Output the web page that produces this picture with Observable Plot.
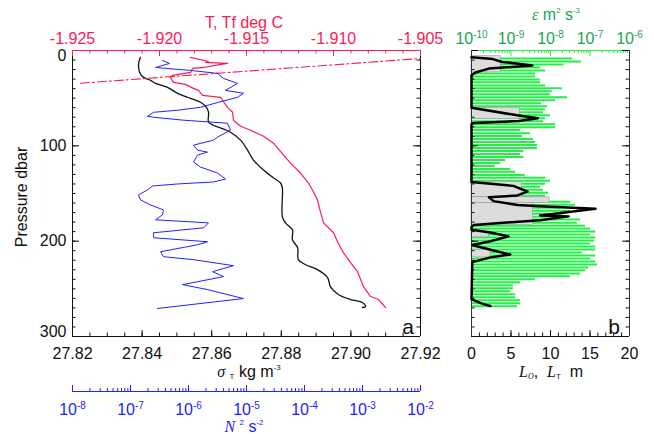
<!DOCTYPE html>
<html>
<head>
<meta charset="utf-8">
<script src="https://cdn.jsdelivr.net/npm/d3@7"></script>
<script src="https://cdn.jsdelivr.net/npm/@observablehq/plot@0.6"></script>
<style>
  body { margin: 0; background: #fff; }
  #fig { position: relative; width: 654px; height: 434px; font-family: "Liberation Sans", Arial, sans-serif; }
  #fig svg { position: absolute; left: 0; top: 0; }
  .lbl { position: absolute; white-space: nowrap; font-size: 16px; line-height: 1; transform: translate(-50%, -50%); }
  .lbl i { font-family: "Liberation Serif", "Times New Roman", serif; }
  .lbl sup { font-size: 8px; vertical-align: 7px; }
  .lbl sub { font-size: 8px; vertical-align: -2px; }
</style>
</head>
<body>
<div id="fig"></div>
<script>
// ---- panel a: density (sigma_T), temperature, N^2 profiles ----
const sigmaP = [7.3,13.6,23.0,28.2,31.3,34.5,38.7,44.9,50.2,54.3,59.6,64.8,75.2,78.4,85.7,94.0,104.5,115.0,125.4,133.8,139.0,144.2,174.5,180.8,188.1,198.5,206.9,219.4,224.7,229.9,238.2,247.6,256.0,261.2,264.4,268.5,269.6];
const sigmaT = [27.8395,27.8390,27.8393,27.8404,27.8424,27.8439,27.8473,27.8502,27.8539,27.8568,27.8585,27.8591,27.8591,27.8605,27.8654,27.8683,27.8703,27.8720,27.8749,27.8778,27.8798,27.8803,27.8803,27.8812,27.8832,27.8832,27.8847,27.8849,27.8870,27.8904,27.8933,27.8941,27.8964,27.8999,27.9033,27.9042,27.9033];

const tempP = [7.3,11.5,12.5,13.6,14.6,17.8,18.8,23.0,26.1,28.2,33.4,35.5,39.7,41.8,47.0,49.1,52.2,59.6,64.8,73.1,79.4,83.6,89.9,97.2,109.7,118.1,128.5,139.0,146.3,156.7,169.3,180.8,191.2,200.6,212.1,222.6,232.0,247.6,258.1,261.2,269.6];
const temp = [-1.91822,-1.91718,-1.91736,-1.91609,-1.91649,-1.91747,-1.91810,-1.91822,-1.91925,-1.91937,-1.91920,-1.91851,-1.91805,-1.91776,-1.91753,-1.91649,-1.91638,-1.91609,-1.91580,-1.91575,-1.91534,-1.91477,-1.91402,-1.91345,-1.91287,-1.91247,-1.91190,-1.91144,-1.91121,-1.91092,-1.91075,-1.91057,-1.91000,-1.90977,-1.90943,-1.90902,-1.90862,-1.90828,-1.90787,-1.90741,-1.90701];

// freezing temperature line (dash-dot)
const tfP = [34.3, 8.4];
const tfT = [-1.92454, -1.905];

const n2P = [10.4,13.6,17.8,20.9,24.0,29.3,34.5,41.8,44.9,49.1,54.3,59.6,62.7,64.8,69.0,70.0,73.1,76.3,83.6,90.9,94.0,99.3,104.5,106.6,109.7,117.0,122.3,128.5,134.8,137.9,140.0,142.1,146.3,151.5,156.7,162.0,167.2,172.4,177.6,180.8,186.0,191.2,196.4,200.6,203.8,211.1,216.3,219.4,225.7,232.0,237.2,245.6,250.8,260.2,270.6];
const n2 = [3.56e-7,4.7e-7,2.7e-7,1.08e-6,3.16e-6,4.01e-6,7.0e-6,4.35e-6,8.87e-6,7.0e-6,3.29e-6,1.61e-6,6.46e-7,2.5e-7,1.96e-7,2.5e-7,8.2e-7,4.7e-6,5.3e-6,3.16e-6,2.7e-6,1.22e-6,1.43e-6,2.13e-6,1.43e-6,1.22e-6,1.61e-6,3.16e-6,4.35e-6,2.7e-6,6.46e-7,2.39e-7,1.96e-7,1.37e-7,1.49e-7,2.21e-7,3.71e-7,3.56e-7,2.7e-7,2.21e-6,1.82e-6,2.5e-7,2.5e-7,2.13e-6,1.43e-6,3.29e-7,3.71e-7,1.22e-6,5.97e-6,2.6e-6,4.01e-6,7.9e-7,2.13e-6,8.87e-6,2.92e-7];

// ---- panel b: dissipation rate, Ozmidov and Thorpe scales ----
const epsP = [8.4,11.5,14.7,17.8,20.9,24.1,27.2,30.3,33.4,36.6,39.7,42.8,46.0,49.1,52.2,55.4,58.5,61.6,64.7,67.9,71.0,74.1,77.3,80.4,83.5,86.7,89.8,92.9,96.0,99.2,102.3,105.4,108.6,111.7,114.8,118.0,121.1,124.2,127.3,130.5,133.6,136.7,139.9,143.0,146.1,149.3,152.4,155.5,158.6,161.8,164.9,168.0,171.2,174.3,177.4,180.6,183.7,186.8,189.9,193.1,196.2,199.3,202.5,205.6,208.7,211.9,215.0,218.1,221.2,224.4,227.5,230.6,233.8,236.9,240.0,243.2,246.3,249.4,252.5,255.7,258.8,261.9,265.1,268.2];
const eps = [3.6e-8,6.1e-8,2.2e-8,5.6e-9,7.5e-9,4.2e-9,4.2e-9,5.6e-9,5.6e-9,7.5e-9,2.0e-8,1.1e-8,1.0e-8,2.7e-8,1.35e-8,5.9e-9,8.4e-9,7.5e-9,6.6e-9,1.0e-8,7.5e-9,6.6e-9,1.35e-8,1.35e-8,1.74e-9,3.1e-9,1.95e-9,3.7e-9,4.2e-9,4.7e-9,4.7e-9,2.1e-9,1.74e-9,2.1e-9,7.3e-10,5.4e-10,4.0e-10,9.7e-10,1.3e-9,2.3e-9,7.5e-9,1.0e-8,7.5e-9,5.6e-9,6.6e-9,8.9e-9,7.5e-9,8.9e-9,3.2e-8,4.3e-8,1.8e-8,3.2e-8,2.1e-8,2.4e-8,5.8e-8,4.8e-8,7.7e-8,1.03e-7,1.4e-7,1.03e-7,1.4e-7,1.3e-7,1.03e-7,1.4e-7,1.4e-7,6.4e-8,1.4e-7,1.03e-7,1.4e-7,1.55e-7,9.2e-8,7.7e-8,5.8e-8,3.2e-8,4.2e-9,1.74e-9,1.15e-9,1.15e-9,9.7e-10,1.3e-9,1.3e-9,1.74e-9,1.74e-9,1.46e-9];

// Thorpe scale over overturning patches (top, bottom, length in m)
const ltTop = [6, 60, 138, 154, 160, 188, 209];
const ltBot = [23, 72, 154, 160, 183, 196, 217];
const lt = [3.7, 6.1, 6.4, 9.9, 7.8, 2.2, 2.4];

// Ozmidov scale
const loP = [7,9,12,15.7,19,23,26,60,68,71,74,76,77,138,142,148,152,154,158,162,164,166,173,174,178,183,185,188,191,195,200,204,209,214,217,222,261,266,268];
const lo = [0,2.7,3.9,7.7,2.2,0.5,0,0,5.8,8.4,6,0.3,0,0,5.3,7.1,5.8,2.2,2.8,5.8,10,15.7,8.7,12.3,8.7,0.3,0,0,2.4,4.7,2.4,0.1,2.4,4.9,2.4,0.1,0,1.5,2.4];

// ---- tick values ----
const tempTicks = [-1.925, -1.920, -1.915, -1.910, -1.905];
const sigmaTicks = [27.82, 27.84, 27.86, 27.88, 27.90, 27.92];
const pressureTicks = [0, 100, 200, 300];
const n2Ticks = [1e-8, 1e-7, 1e-6, 1e-5, 1e-4, 1e-3, 1e-2];
const epsTicks = [1e-10, 1e-9, 1e-8, 1e-7, 1e-6];
const lTicks = [0, 5, 10, 15, 20];

// ---- layout ----
const W = 654, H = 434;
const frameTop = 50, frameBottom = 336;
const aL = 72, aR = 420, bL = 471, bR = 629;
const n2AxisY = 391;
const frameH = frameBottom - frameTop;
const red = "#ff1a55", blue = "#2222ff", green = "#22a552", barGreen = "#22f046", ink = "#111";

const tables = {
  sigma: sigmaP.map((p, i) => ({p, v: sigmaT[i]})),
  temp: tempP.map((p, i) => ({p, v: temp[i]})),
  tf: tfP.map((p, i) => ({p, v: tfT[i]})),
  n2: n2P.map((p, i) => ({p, v: n2[i]})),
  eps: epsP.map((p, i) => ({p, v: eps[i]})),
  lt: ltTop.map((p1, i) => ({p1, p2: ltBot[i], v: lt[i]})),
  lo: loP.map((p, i) => ({p, v: lo[i]}))
};

// log tick labels are written as "10^e" and turned into a raised exponent after rendering
const pow10 = d => "10^" + Math.round(Math.log10(d));
const minorLog = decades => decades.slice(0, -1).flatMap(d => [2,3,4,5,6,7,8,9].map(k => k * d));
const step = (a, b, s) => d3.range(0, Math.round((b - a) / s) + 1).map(i => +(a + i * s).toFixed(6));

const style = {background: "transparent", overflow: "visible", fontFamily: "Liberation Sans, Arial, sans-serif", fontSize: "16px"};

// ticks drawn inward from a frame edge
const tTop = (vals, len, stroke, h = frameH) => Plot.tickX(vals, {x: d => d, insetBottom: h - len, stroke});
const tBottom = (vals, len, stroke, h = frameH) => Plot.tickX(vals, {x: d => d, insetTop: h - len, stroke});
const tLeft = (vals, len, w) => Plot.tickY(vals, {y: d => d, insetRight: w - len, stroke: ink});
const tRight = (vals, len, w) => Plot.tickY(vals, {y: d => d, insetLeft: w - len, stroke: ink});

const pMinor = step(0, 300, 10);

function frameLayer(o) {
  return {width: W, height: H, marginTop: frameTop, marginBottom: H - frameBottom, style, ...o};
}

const pLabel = (ticks, dy) => Plot.axisY({anchor: "left", ticks, tickSize: 0, tickPadding: 6, label: null, fill: ink, dy});

// sigma_T layer with pressure axis
const sigmaPlot = Plot.plot(frameLayer({
  marginLeft: aL, marginRight: W - aR,
  x: {domain: [27.82, 27.92]},
  y: {domain: [0, 300], reverse: true},
  marks: [
    Plot.axisX({anchor: "bottom", ticks: sigmaTicks, tickSize: 0, tickPadding: 11, tickFormat: d => d.toFixed(2), label: null, fill: ink}),
    pLabel([pressureTicks[0]], 5),
    pLabel(pressureTicks.slice(1, -1), 0),
    pLabel([pressureTicks[pressureTicks.length - 1]], -5),
    tBottom(step(27.82, 27.92, 0.005), 3.5, ink),
    tBottom(sigmaTicks, 6, ink),
    tLeft(pMinor, 3.5, aR - aL), tLeft(pressureTicks, 7, aR - aL),
    tRight(pMinor, 3.5, aR - aL), tRight(pressureTicks, 7, aR - aL),
    Plot.ruleX([27.82, 27.92], {stroke: ink}),
    Plot.ruleY([300], {stroke: ink}),
    Plot.line(tables.sigma, {x: "v", y: "p", stroke: ink, strokeWidth: 1.3, curve: "catmull-rom"})
  ]
}));

// temperature layer (top axis)
const tempPlot = Plot.plot(frameLayer({
  marginLeft: aL, marginRight: W - aR,
  x: {domain: [-1.925, -1.905]},
  y: {domain: [0, 300], reverse: true, axis: null},
  marks: [
    Plot.axisX({anchor: "top", ticks: tempTicks, tickSize: 0, tickPadding: 7, tickFormat: d => d.toFixed(3), label: null, fill: red}),
    tTop(step(-1.925, -1.905, 0.001), 3.5, red),
    tTop(tempTicks, 6, red),
    Plot.ruleY([0], {stroke: red}),
    Plot.line(tables.tf, {x: "v", y: "p", stroke: red, strokeWidth: 1.1, strokeDasharray: "9,3,2,3"}),
    Plot.line(tables.temp, {x: "v", y: "p", stroke: red, strokeWidth: 1.2})
  ]
}));

// N^2 layer: its log axis sits below the sigma axis, so the pressure domain is stretched to that line
const n2Frame = n2AxisY - frameTop;
const n2Plot = Plot.plot({
  width: W, height: H, marginTop: frameTop, marginBottom: H - n2AxisY, style,
  marginLeft: aL, marginRight: W - aR,
  x: {type: "log", domain: [1e-8, 1e-2]},
  y: {domain: [0, 300 * n2Frame / frameH], reverse: true, axis: null},
  marks: [
    Plot.axisX({anchor: "bottom", ticks: n2Ticks, tickSize: 0, tickPadding: 12, tickFormat: pow10, label: null, fill: blue}),
    tBottom(minorLog(n2Ticks), 3, blue, n2Frame),
    tBottom(n2Ticks, 6, blue, n2Frame),
    Plot.ruleY([300 * n2Frame / frameH], {stroke: blue}),
    Plot.line(tables.n2, {x: "v", y: "p", stroke: blue, strokeWidth: 1})
  ]
});

// dissipation rate bars (top log axis)
const epsPlot = Plot.plot(frameLayer({
  marginLeft: bL, marginRight: W - bR,
  x: {type: "log", domain: [1e-10, 1e-6]},
  y: {domain: [0, 300], reverse: true, axis: null},
  marks: [
    Plot.ruleY(tables.eps, {y: "p", x1: () => 1e-10, x2: "v", stroke: barGreen, strokeWidth: 2}),
    Plot.axisX({anchor: "top", ticks: epsTicks, tickSize: 0, tickPadding: 7, tickFormat: pow10, label: null, fill: green}),
    tTop(minorLog(epsTicks), 3, barGreen),
    tTop(epsTicks, 6, barGreen),
    Plot.ruleY([0], {stroke: barGreen})
  ]
}));

// Thorpe and Ozmidov scales (bottom linear axis)
const lPlot = Plot.plot(frameLayer({
  marginLeft: bL, marginRight: W - bR,
  x: {domain: [0, 20]},
  y: {domain: [0, 300], reverse: true, axis: null},
  marks: [
    Plot.rectX(tables.lt, {x1: () => 0, x2: "v", y1: "p1", y2: "p2", fill: "#dcdcdc", stroke: "#9a9a9a", strokeWidth: 0.6}),
    Plot.axisX({anchor: "bottom", ticks: lTicks, tickSize: 0, tickPadding: 11, label: null, fill: ink}),
    tBottom(step(0, 20, 1), 3.5, ink),
    tBottom(lTicks, 6, ink),
    tLeft(pMinor, 3.5, bR - bL), tLeft(pressureTicks, 7, bR - bL),
    tRight(pMinor, 3.5, bR - bL), tRight(pressureTicks, 7, bR - bL),
    Plot.ruleX([0, 20], {stroke: "#333"}),
    Plot.ruleY([300], {stroke: ink}),
    Plot.line(tables.lo, {x: "v", y: "p", stroke: "#000", strokeWidth: 2.5, strokeLinejoin: "round"})
  ]
}));

const fig = document.getElementById("fig");
const svgNS = "http://www.w3.org/2000/svg";
for (const svg of [sigmaPlot, tempPlot, n2Plot, epsPlot, lPlot]) {
  for (const t of svg.querySelectorAll("text")) {
    const m = /^10\^(-?\d+)$/.exec(t.textContent);
    if (!m) continue;
    t.textContent = "10";
    const s = document.createElementNS(svgNS, "tspan");
    s.setAttribute("dy", "-6");
    s.setAttribute("font-size", "10px");
    s.textContent = m[1];
    t.appendChild(s);
  }
  fig.appendChild(svg);
}

// axis titles and panel letters
const labels = [
  {x: 244, y: 23, color: red, html: "T, Tf deg C"},
  {x: 556, y: 15, color: green, html: "<i>ε</i> m<sup>2</sup> s<sup>-3</sup>"},
  {x: 249, y: 372, color: ink, html: "<i>σ</i> <sub>T</sub> kg m<sup>-3</sup>"},
  {x: 244, y: 427, color: blue, html: "<i>N</i> <sup>2</sup> s<sup>-2</sup>"},
  {x: 551, y: 372, color: ink, html: "<i>L</i><sub><i>O</i></sub>, &nbsp;<i>L</i><sub>T</sub> &nbsp;m"},
  {x: 22, y: 197, color: ink, html: "Pressure dbar", rotate: true},
  {x: 408, y: 326, color: ink, html: "a", size: 21},
  {x: 614, y: 326, color: ink, html: "b", size: 21}
];
for (const l of labels) {
  const div = document.createElement("div");
  div.className = "lbl";
  div.style.left = l.x + "px";
  div.style.top = l.y + "px";
  div.style.color = l.color;
  if (l.size) div.style.fontSize = l.size + "px";
  if (l.rotate) div.style.transform = "translate(-50%, -50%) rotate(-90deg)";
  div.innerHTML = l.html;
  fig.appendChild(div);
}
</script>
</body>
</html>
